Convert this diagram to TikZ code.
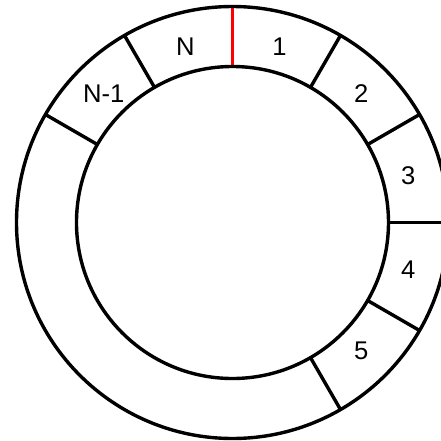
\documentclass[tikz,border=0pt]{standalone}
\usepackage{fontspec}
\setmainfont{Liberation Sans}
\usepackage{tikz}
\usetikzlibrary{calc}
\definecolor{RingInk}{HTML}{000000}
\definecolor{RingRed}{HTML}{FF0000}

\begin{document}
\begin{tikzpicture}[
  x=0.5pt,y=0.5pt,
  ring/.style={draw=RingInk,line width=1.7pt},
  divider/.style={draw=RingInk,line width=1.7pt},
  start/.style={draw=RingRed,line width=1.7pt},
  slot/.style={font=\fontsize{12.8pt}{14pt}\selectfont,text=RingInk,inner sep=0pt},
]
\useasboundingbox (-232.5,-218.5) rectangle (208.5,222.5);
\coordinate (c) at (0,0);
% slot borders
\draw[start] (90:156) -- (90:216);
\foreach \a in {60,30,0,-30,-60,120,150}
  \draw[divider] (\a:156) -- (\a:216);
\draw[ring] (c) circle[radius=216];
\draw[ring] (c) circle[radius=156];
% slot labels
\node[slot] (s1) at (75:182) {1};
\node[slot] (s2) at (45:182) {2};
\node[slot] (s3) at (15:182) {3};
\node[slot] (s4) at (-15:182) {4};
\node[slot] (s5) at (-45:182) {5};
\node[slot] (sN) at (105:182) {N};
\node[slot] (sNm) at (135:182) {N-1};
\end{tikzpicture}
\end{document}
